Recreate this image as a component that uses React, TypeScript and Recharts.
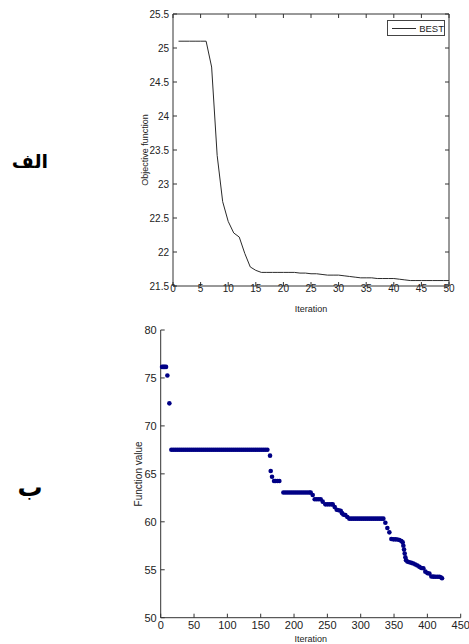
import { Line, LineChart, Scatter, ScatterChart, XAxis, YAxis } from 'recharts';

// top panel: best objective per iteration
const bestIter = [
  1, 2, 3, 4, 5, 6, 7, 8, 9, 10, 11, 12, 13, 14, 15, 16, 17, 18, 19, 20, 21, 22, 23, 24, 25,
  26, 27, 28, 29, 30, 31, 32, 33, 34, 35, 36, 37, 38, 39, 40, 41, 42, 43, 44, 45, 46, 47, 48, 49, 50,
];
const bestValue = [
  25.1, 25.1, 25.1, 25.1, 25.1, 25.1, 24.72, 23.42, 22.74, 22.45, 22.28, 22.22, 21.98, 21.78, 21.73,
  21.7, 21.7, 21.7, 21.7, 21.7, 21.7, 21.7, 21.69, 21.69, 21.68, 21.68, 21.67, 21.66, 21.66, 21.66,
  21.65, 21.64, 21.63, 21.62, 21.62, 21.62, 21.61, 21.61, 21.61, 21.61, 21.6, 21.59, 21.58, 21.58,
  21.58, 21.58, 21.58, 21.58, 21.58, 21.58,
];
const topXTicks = [0, 5, 10, 15, 20, 25, 30, 35, 40, 45, 50];
const topYTicks = [21.5, 22, 22.5, 23, 23.5, 24, 24.5, 25, 25.5];

// bottom panel: function value per iteration
const fvIter = [
  2, 4, 6, 8, 10, 13,
  16, 19, 22, 25, 28, 31, 34, 37, 40, 43, 46, 49, 52, 55, 58, 61, 64, 67, 70, 73, 76, 79, 82, 85,
  88, 91, 94, 97, 100, 103, 106, 109, 112, 115, 118, 121, 124, 127, 130, 133, 136, 139, 142, 145,
  148, 151, 154, 157, 160,
  164, 165, 167, 170, 172, 175, 178,
  184, 187, 190, 193, 196, 199, 202, 205, 208, 211, 214, 217, 220, 223, 225,
  228, 231, 234, 237, 240, 243, 247, 250, 253, 256, 258,
  261, 264, 267, 270, 272, 274, 277, 280,
  283, 286, 289, 292, 295, 298, 301, 304, 307, 310, 313, 316, 319, 322, 325, 328, 331, 334,
  337, 340, 343, 346, 349, 352, 355, 358, 361, 363, 364, 365, 366, 367, 368,
  370, 373, 376, 379, 382, 385, 388, 391, 394, 397, 400, 403, 406, 409, 412, 415, 418, 420, 422,
];
const fvValue = [
  76.15, 76.15, 76.15, 76.15, 75.25, 72.35,
  67.52, 67.52, 67.52, 67.52, 67.52, 67.52, 67.52, 67.52, 67.52, 67.52, 67.52, 67.52, 67.52, 67.52,
  67.52, 67.52, 67.52, 67.52, 67.52, 67.52, 67.52, 67.52, 67.52, 67.52, 67.52, 67.52, 67.52, 67.52,
  67.52, 67.52, 67.52, 67.52, 67.52, 67.52, 67.52, 67.52, 67.52, 67.52, 67.52, 67.52, 67.52, 67.52,
  67.52, 67.52, 67.52, 67.52, 67.52, 67.52, 67.52,
  66.9, 65.3, 64.7, 64.25, 64.25, 64.25, 64.25,
  63.05, 63.05, 63.05, 63.05, 63.05, 63.05, 63.05, 63.05, 63.05, 63.05, 63.05, 63.05, 63.05, 63.05, 63.05,
  62.8, 62.35, 62.35, 62.35, 62.35, 62.1, 61.82, 61.82, 61.82, 61.82, 61.82,
  61.55, 61.25, 61.2, 61.15, 60.9, 60.75, 60.7, 60.5,
  60.33, 60.33, 60.33, 60.33, 60.33, 60.33, 60.33, 60.33, 60.33, 60.33, 60.33, 60.33, 60.33, 60.33,
  60.33, 60.33, 60.33, 60.33,
  59.9, 59.35, 58.9, 58.2, 58.17, 58.17, 58.15, 58.1, 58.0, 57.85, 57.5, 57.1, 56.7, 56.3, 56.0,
  55.85, 55.78, 55.72, 55.65, 55.55, 55.45, 55.3, 55.18, 55.15, 54.8, 54.65, 54.6, 54.3, 54.28,
  54.27, 54.27, 54.27, 54.22, 54.12,
];
const bottomXTicks = [0, 50, 100, 150, 200, 250, 300, 350, 400, 450];
const bottomYTicks = [50, 55, 60, 65, 70, 75, 80];

const bestData = bestIter.map((iter, i) => ({ iter, value: bestValue[i] }));
const fvData = fvIter.map((iter, i) => ({ iter, value: fvValue[i] }));

const font = "'Liberation Sans Narrow', 'Liberation Sans', Arial, sans-serif";
const axisColor = '#333';
const navy = '#000085';

const topTick = { fontSize: 10, fill: '#222', fontFamily: font };
const bottomTick = { fontSize: 11, fill: '#222', fontFamily: font };

const Dot = (props: any) => <circle cx={props.cx} cy={props.cy} r={2.3} fill={navy} />;
// mirrored axes of the box: tick marks only, no labels
const NoLabel = () => <g />;

function BestChart() {
  return (
    <div style={{ position: 'absolute', left: 100, top: 0 }}>
      <LineChart width={360} height={316} data={bestData} margin={{ top: 13, right: 10, bottom: 0, left: 16 }}>
        <XAxis
          dataKey="iter"
          type="number"
          domain={[0, 50]}
          ticks={topXTicks}
          interval={0}
          tickSize={-4}
          tickMargin={3}
          height={30}
          stroke={axisColor}
          tick={topTick}
          label={{ value: 'Iteration', position: 'insideBottom', offset: 4.5, fontSize: 9, fill: '#222', fontFamily: font }}
        />
        <XAxis
          xAxisId="top"
          dataKey="iter"
          orientation="top"
          type="number"
          domain={[0, 50]}
          ticks={topXTicks}
          interval={0}
          tickSize={-4}
          height={1}
          stroke={axisColor}
          tick={NoLabel}
        />
        <YAxis
          type="number"
          domain={[21.5, 25.5]}
          ticks={topYTicks}
          interval={0}
          tickSize={-4}
          tickMargin={8}
          width={57}
          stroke={axisColor}
          tick={topTick}
          label={{ value: 'Objective function', angle: -90, position: 'center', fontSize: 9, fill: '#222', fontFamily: font }}
        />
        <YAxis
          yAxisId="right"
          orientation="right"
          type="number"
          domain={[21.5, 25.5]}
          ticks={topYTicks}
          interval={0}
          tickSize={-4}
          width={1}
          stroke={axisColor}
          tick={NoLabel}
        />
        <Line dataKey="value" stroke="#2a2a2a" strokeWidth={1} dot={false} isAnimationActive={false} />
        <Line dataKey="value" xAxisId="top" yAxisId="right" stroke="none" dot={false} legendType="none" isAnimationActive={false} />
      </LineChart>
      <div
        style={{
          position: 'absolute',
          left: 287,
          top: 20,
          width: 56,
          height: 14,
          border: '1px solid #444',
          background: '#fff',
          display: 'flex',
          alignItems: 'center',
          fontFamily: font,
          fontSize: 9.5,
          color: '#222',
        }}
      >
        <span style={{ display: 'inline-block', width: 26, height: 0, borderTop: '1px solid #2a2a2a', marginLeft: 4, marginRight: 3 }} />
        BEST
      </div>
    </div>
  );
}

function FunctionValueChart() {
  return (
    <div style={{ position: 'absolute', left: 100, top: 320 }}>
      <ScatterChart width={369} height={324} margin={{ top: 10, right: 8.3, bottom: 0, left: 16 }}>
        <XAxis
          dataKey="iter"
          type="number"
          domain={[0, 450]}
          ticks={bottomXTicks}
          interval={0}
          tickSize={-4}
          tickMargin={7}
          height={26.3}
          stroke={axisColor}
          tick={bottomTick}
          label={{ value: 'Iteration', position: 'insideBottom', offset: 2, fontSize: 9, fill: '#222', fontFamily: font }}
        />
        <YAxis
          dataKey="value"
          type="number"
          domain={[50, 80]}
          ticks={bottomYTicks}
          interval={0}
          tickSize={-4}
          tickMargin={8}
          width={44.7}
          stroke={axisColor}
          tick={bottomTick}
          label={{ value: 'Function value', angle: -90, position: 'center', fontSize: 10, fill: '#222', fontFamily: font }}
        />
        <Scatter data={fvData} fill={navy} shape={Dot} isAnimationActive={false} />
      </ScatterChart>
    </div>
  );
}

const arabic = {
  position: 'absolute' as const,
  left: 0,
  width: 60,
  textAlign: 'center' as const,
  fontFamily: "'DejaVu Sans', sans-serif",
  fontWeight: 'bold' as const,
  lineHeight: '28px',
  direction: 'rtl' as const,
};

export default function App() {
  return (
    <div style={{ position: 'absolute', left: 0, top: 0, width: 469, height: 644, overflow: 'hidden', background: '#fff' }}>
      <div style={{ ...arabic, top: 147, fontSize: 19 }}>الف</div>
      <div style={{ ...arabic, top: 474, fontSize: 25 }}>ب</div>
      <BestChart />
      <FunctionValueChart />
    </div>
  );
}
